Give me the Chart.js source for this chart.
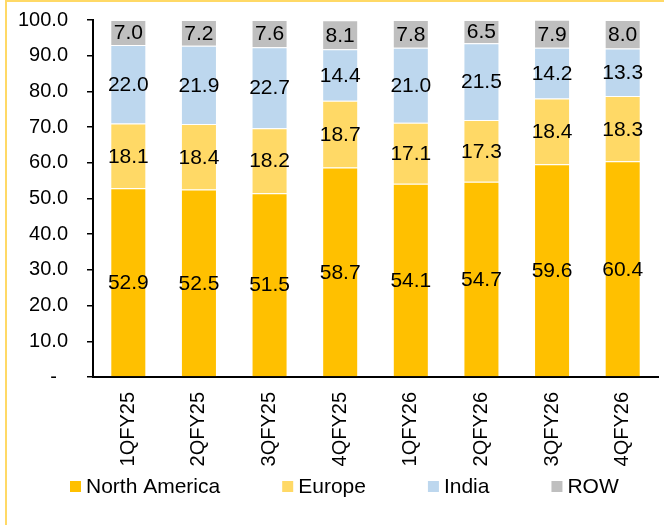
<!DOCTYPE html>
<html>
<head>
<meta charset="utf-8">
<script src="https://cdn.jsdelivr.net/npm/chart.js@4.4.1/dist/chart.umd.min.js"></script>
<style>
  html, body { margin: 0; padding: 0; background: #fff; }
  #wrap { position: relative; width: 664px; height: 525px; }
  #frame { position: absolute; left: 5px; top: 0; width: 664px; height: 525px;
           border-top: 2px solid #FFD966; border-left: 2px solid #FFD966; pointer-events: none; }
  canvas { position: absolute; left: 0; top: 0; }
</style>
</head>
<body>
<div id="wrap">
  <canvas id="regionChart" width="664" height="525"></canvas>
  <div id="frame"></div>
</div>
<script>
// quarterly revenue mix by region (%)
const quarters = ['1QFY25', '2QFY25', '3QFY25', '4QFY25', '1QFY26', '2QFY26', '3QFY26', '4QFY26'];
const northAmerica = [52.9, 52.5, 51.5, 58.7, 54.1, 54.7, 59.6, 60.4];
const europe = [18.1, 18.4, 18.2, 18.7, 17.1, 17.3, 18.4, 18.3];
const india = [22.0, 21.9, 22.7, 14.4, 21.0, 21.5, 14.2, 13.3];
const row = [7.0, 7.2, 7.6, 8.1, 7.8, 6.5, 7.9, 8.0];
const yTicks = [0, 10, 20, 30, 40, 50, 60, 70, 80, 90, 100];

const FONT = '"Liberation Sans", Arial, sans-serif';

// value labels in the middle of each segment
const segmentLabels = {
  id: 'segmentLabels',
  afterDatasetsDraw(chart) {
    const ctx = chart.ctx;
    ctx.save();
    ctx.font = '21px ' + FONT;
    ctx.fillStyle = '#000';
    ctx.textAlign = 'center';
    ctx.textBaseline = 'middle';
    chart.data.datasets.forEach((ds, i) => {
      const meta = chart.getDatasetMeta(i);
      meta.data.forEach((bar, j) => {
        const y = (bar.y + bar.base) / 2;
        ctx.fillText(ds.data[j].toFixed(1), bar.x, y + 1);
      });
    });
    ctx.restore();
  }
};

// legend row under the axis labels
const bottomLegend = {
  id: 'bottomLegend',
  afterDraw(chart) {
    const ctx = chart.ctx;
    ctx.save();
    ctx.font = '21px ' + FONT;
    ctx.textBaseline = 'middle';
    ctx.textAlign = 'left';
    let x = 70;
    const y = 486;
    chart.data.datasets.forEach(ds => {
      ctx.fillStyle = ds.backgroundColor;
      ctx.fillRect(x, y - 5, 11, 11);
      ctx.fillStyle = '#000';
      ctx.fillText(ds.label, x + 16, y + 1);
      x += 16 + ctx.measureText(ds.label).width + 62;
    });
    ctx.restore();
  }
};

const mkSet = (label, data, color) => ({
  label: label,
  data: data,
  backgroundColor: color,
  borderColor: 'rgba(255,255,255,0.45)',
  borderWidth: 1,
  barPercentage: 0.51,
  categoryPercentage: 1.0
});

new Chart(document.getElementById('regionChart'), {
  type: 'bar',
  data: {
    labels: quarters,
    datasets: [
      mkSet('North America', northAmerica, '#FFC000'),
      mkSet('Europe', europe, '#FFD966'),
      mkSet('India', india, '#BDD7EE'),
      mkSet('ROW', row, '#BFBFBF')
    ]
  },
  options: {
    responsive: false,
    animation: false,
    layout: { padding: { left: 0, top: 20, right: 6, bottom: 50 } },
    plugins: {
      legend: { display: false },
      tooltip: { enabled: false }
    },
    scales: {
      x: {
        stacked: true,
        grid: { display: false },
        border: { color: '#000', width: 2 },
        ticks: {
          color: '#000',
          font: { size: 20, family: FONT },
          minRotation: 90,
          maxRotation: 90,
          padding: 7
        },
        afterFit(scale) {
          scale.height = 98;
          scale.paddingLeft = 0;
          scale.paddingRight = 0;
        }
      },
      y: {
        stacked: true,
        min: 0,
        max: 100,
        afterBuildTicks(scale) { scale.ticks = yTicks.map(v => ({ value: v })); },
        grid: { drawOnChartArea: false, drawTicks: true, tickLength: 6, color: '#000', lineWidth: 1.5 },
        border: { color: '#000', width: 2 },
        ticks: {
          color: '#000',
          font: { size: 20, family: FONT },
          padding: 19,
          callback: v => v === 0 ? '-  ' : v.toFixed(1)
        },
        afterFit(scale) {
          scale.width = 93;
          scale.paddingTop = 0;
          scale.paddingBottom = 0;
        }
      }
    }
  },
  plugins: [segmentLabels, bottomLegend]
});
</script>
</body>
</html>
